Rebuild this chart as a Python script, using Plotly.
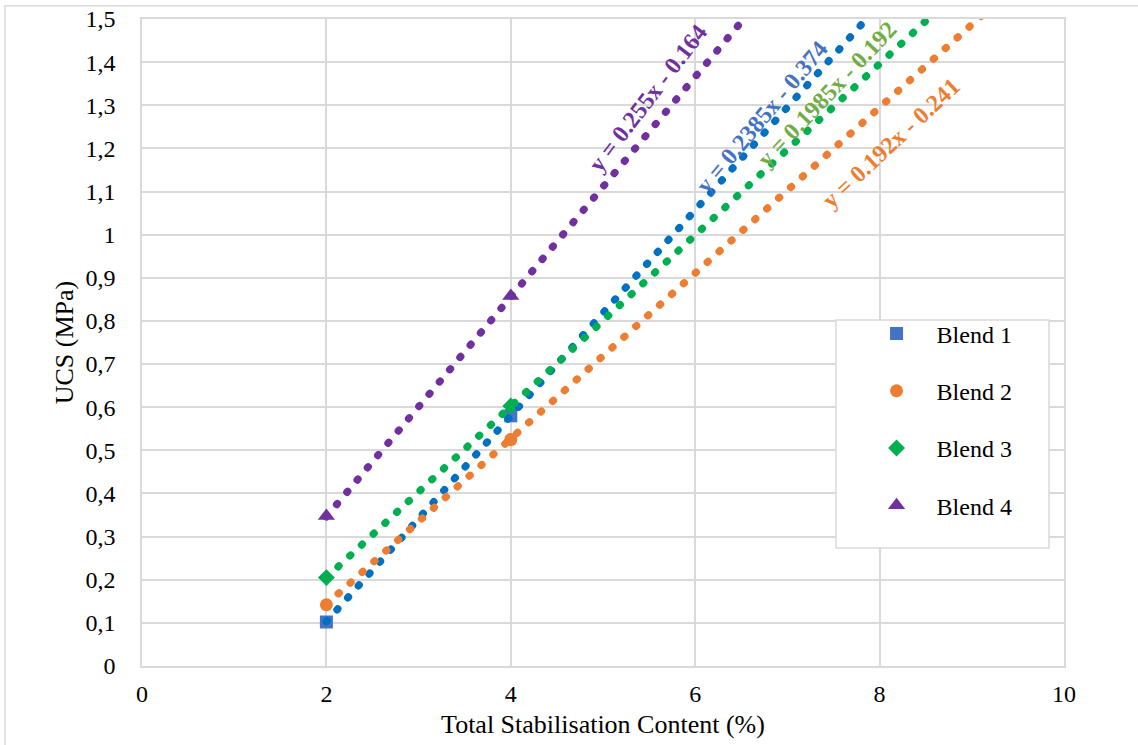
import plotly.graph_objects as go

# ---- data ----
blend_names = ["Blend 1", "Blend 2", "Blend 3", "Blend 4"]
tsc_x = [2, 4]
ucs_blend1 = [0.102, 0.58]
ucs_blend2 = [0.142, 0.525]
ucs_blend3 = [0.205, 0.603]
ucs_blend4 = [0.348, 0.858]

trend_slopes = [0.2385, 0.192, 0.1985, 0.255]
trend_intercepts = [-0.374, -0.241, -0.192, -0.164]
trend_x_range = [2, 10]

y_tickvals = [0, 0.1, 0.2, 0.3, 0.4, 0.5, 0.6, 0.7, 0.8, 0.9, 1.0, 1.1, 1.2, 1.3, 1.4, 1.5]
y_ticktext = ["0", "0,1", "0,2", "0,3", "0,4", "0,5", "0,6", "0,7", "0,8", "0,9", "1", "1,1", "1,2", "1,3", "1,4", "1,5"]
x_tickvals = [0, 2, 4, 6, 8, 10]
x_ticktext = ["0", "2", "4", "6", "8", "10"]

# ---- styles ----
marker_colors = ["#4472C4", "#ED7D31", "#00B050", "#7030A0"]
marker_symbols = ["square", "circle", "diamond", "triangle-up"]
marker_sizes = [13, 13, 13, 15]
trend_colors = ["#0070C0", "#ED7D31", "#00B050", "#7030A0"]
label_colors = ["#4472C4", "#ED7D31", "#70AD47", "#7030A0"]
label_pos = [(6.724, 1.273), (8.124, 1.213), (7.43, 1.326), (5.488, 1.317)]
label_angles = [-50, -43, -46.5, -52.5]

FONT = "Liberation Serif"
GRID = "#d9d9d9"

series = [ucs_blend1, ucs_blend2, ucs_blend3, ucs_blend4]

fig = go.Figure()
for i, name in enumerate(blend_names):
    fig.add_trace(go.Scatter(
        x=tsc_x, y=series[i], mode="markers", name=name,
        legendgroup=name,
        marker=dict(symbol=marker_symbols[i], size=marker_sizes[i], color=marker_colors[i],
                    line=dict(width=0)),
        cliponaxis=False,
    ))

for i, name in enumerate(blend_names):
    m, b = trend_slopes[i], trend_intercepts[i]
    ty = [m * xx + b for xx in trend_x_range]
    fig.add_trace(go.Scatter(
        x=trend_x_range, y=ty, mode="lines", showlegend=False, hoverinfo="skip",
        line=dict(color=trend_colors[i], width=7.5, dash="1px,15px"),
    ))

for i in range(4):
    m, b = trend_slopes[i], trend_intercepts[i]
    txt = f"y = {m}x - {abs(b)}"
    fig.add_annotation(
        x=label_pos[i][0], y=label_pos[i][1], xref="x", yref="y",
        text=f"<b>{txt}</b>", showarrow=False, textangle=label_angles[i],
        font=dict(family=FONT, size=24, color=label_colors[i]),
        xanchor="center", yanchor="middle",
    )

# legend box
fig.add_shape(type="rect", xref="paper", yref="paper",
              x0=0.7527, x1=0.9837, y0=0.1824, y1=0.5348,
              line=dict(color=GRID, width=1.5), fillcolor="white", layer="above")
# outer chart frame
fig.add_shape(type="rect", xref="paper", yref="paper",
              x0=-0.1486, x1=1.15, y0=-0.25, y1=1.0206,
              line=dict(color=GRID, width=1.5), fillcolor="rgba(0,0,0,0)", layer="below")

axis_common = dict(showgrid=True, gridcolor=GRID, gridwidth=1.5, zeroline=False,
                   showline=True, linecolor=GRID, linewidth=1.5, mirror=True,
                   ticks="", tickfont=dict(family=FONT, size=24, color="#000"))

fig.update_layout(
    width=1138, height=745,
    margin=dict(l=142, r=74, t=19, b=79, autoexpand=False),
    paper_bgcolor="white", plot_bgcolor="white",
    font=dict(family=FONT, size=24, color="#000"),
    xaxis=dict(range=[0, 10], tickvals=x_tickvals, ticktext=x_ticktext,
               title=dict(text="Total Stabilisation Content (%)", font=dict(family=FONT, size=26, color="#000"), standoff=9),
               ticklabelstandoff=5, automargin=False, **axis_common),
    yaxis=dict(range=[0, 1.5], tickvals=y_tickvals, ticktext=y_ticktext,
               title=dict(text="UCS (MPa)", font=dict(family=FONT, size=26, color="#000"), standoff=4),
               ticklabelstandoff=20, automargin=False, **axis_common),
    legend=dict(x=0.775, y=0.548, xanchor="left", yanchor="top",
                bgcolor="rgba(0,0,0,0)", borderwidth=0,
                font=dict(family=FONT, size=24, color="#000"),
                itemwidth=70, tracegroupgap=23, traceorder="grouped"),
    showlegend=True,
)

post = """
var gd = document.getElementById('{plot_id}');
function roundCaps(){
  gd.querySelectorAll('.scatterlayer .trace path.js-line').forEach(function(p){
    p.style.strokeLinecap = 'round';
  });
}
roundCaps();
gd.on('plotly_afterplot', roundCaps);
"""

fig.write_html("out.html", post_script=post)
